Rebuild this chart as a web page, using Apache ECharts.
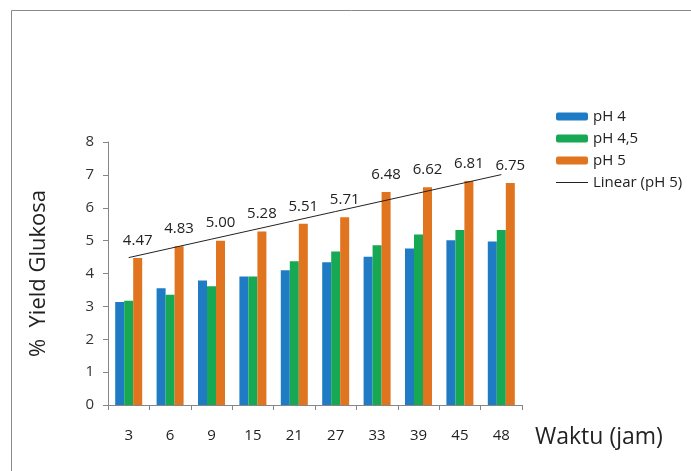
<!DOCTYPE html>
<html>
<head>
<meta charset="utf-8">
<script src="https://cdn.jsdelivr.net/npm/echarts@6/dist/echarts.min.js"></script>
<style>
  html, body { margin: 0; padding: 0; background: #ffffff; }
  #chart { width: 691px; height: 471px; }
</style>
</head>
<body>
<div id="chart"></div>
<script>
// Sampling times (hours)
const waktu = ['3', '6', '9', '15', '21', '27', '33', '39', '45', '48'];

// Glucose yield (%) per pH
const ph4  = [3.13, 3.55, 3.79, 3.91, 4.10, 4.34, 4.51, 4.76, 5.01, 4.97];
const ph45 = [3.17, 3.35, 3.61, 3.91, 4.37, 4.67, 4.86, 5.19, 5.32, 5.32];
const ph5  = [4.47, 4.83, 5.00, 5.28, 5.51, 5.71, 6.48, 6.62, 6.81, 6.75];

const yTicks = [0, 1, 2, 3, 4, 5, 6, 7, 8];

// Least-squares trend line of the pH 5 series over the category index
function linearTrend(values) {
  const n = values.length;
  const xs = values.map((_, i) => i + 1);
  const mx = xs.reduce((a, b) => a + b, 0) / n;
  const my = values.reduce((a, b) => a + b, 0) / n;
  let sxy = 0, sxx = 0;
  for (let i = 0; i < n; i++) {
    sxy += (xs[i] - mx) * (values[i] - my);
    sxx += (xs[i] - mx) * (xs[i] - mx);
  }
  const slope = sxy / sxx;
  return xs.map(x => +(my + slope * (x - mx)).toFixed(4));
}
const trendPh5 = linearTrend(ph5);

const FONT = '"Open Sans", "Noto Sans", sans-serif';
const chart = echarts.init(document.getElementById('chart'), null, { renderer: 'canvas' });

chart.setOption({
  backgroundColor: '#ffffff',
  animation: false,
  textStyle: { fontFamily: FONT },
  graphic: [{
    type: 'rect',
    left: 9, top: 8,
    shape: { width: 720, height: 500 },
    style: { fill: 'none', stroke: '#8a8a8a', lineWidth: 1 },
    silent: true
  }],
  grid: { left: 108, right: 169, top: 142, bottom: 66, containLabel: false },
  legend: {
    orient: 'vertical',
    left: 551, top: 104,
    itemWidth: 32, itemHeight: 8, itemGap: 7,
    textStyle: { fontFamily: FONT, fontSize: 15, color: '#222', lineHeight: 15 },
    data: [
      'pH 4', 'pH 4,5', 'pH 5',
      { name: 'Linear (pH 5)', icon: 'path://M0,0 L32,0 L32,1 L0,1 Z' }
    ]
  },
  xAxis: {
    type: 'category',
    data: waktu,
    name: 'Waktu (jam)',
    nameLocation: 'end',
    nameGap: 13,
    nameTextStyle: {
      fontFamily: FONT, fontSize: 23, color: '#222',
      verticalAlign: 'top', padding: [21, 0, 0, 0]
    },
    axisLine: { lineStyle: { color: '#868686' } },
    axisTick: { show: true, length: 5, lineStyle: { color: '#868686' } },
    axisLabel: { margin: 23, fontFamily: FONT, fontSize: 15, color: '#222' },
    splitLine: { show: false }
  },
  yAxis: {
    type: 'value',
    min: yTicks[0], max: yTicks[yTicks.length - 1], interval: 1,
    name: '%  Yield Glukosa',
    nameLocation: 'middle',
    nameGap: 58,
    nameRotate: 90,
    nameTextStyle: { fontFamily: FONT, fontSize: 22, color: '#222' },
    axisLine: { show: true, lineStyle: { color: '#868686' } },
    axisTick: { show: true, length: 5, lineStyle: { color: '#868686' } },
    axisLabel: { margin: 14, fontFamily: FONT, fontSize: 15, color: '#333' },
    splitLine: { show: false }
  },
  series: [
    {
      name: 'pH 4', type: 'bar', data: ph4,
      barWidth: 9, barGap: '0%',
      itemStyle: { color: '#1f7cc4' }
    },
    {
      name: 'pH 4,5', type: 'bar', data: ph45,
      barWidth: 9, barGap: '0%',
      itemStyle: { color: '#17a853' }
    },
    {
      name: 'pH 5', type: 'bar', data: ph5,
      barWidth: 9, barGap: '0%',
      itemStyle: { color: '#e0741f' },
      label: {
        show: true, position: 'top', distance: 10,
        fontFamily: FONT, fontSize: 15, color: '#222',
        formatter: p => p.value.toFixed(2)
      }
    },
    {
      name: 'Linear (pH 5)', type: 'line', data: trendPh5,
      symbol: 'none', z: 5,
      lineStyle: { color: '#222', width: 1 },
      itemStyle: { color: '#222' }
    }
  ]
});
</script>
</body>
</html>
